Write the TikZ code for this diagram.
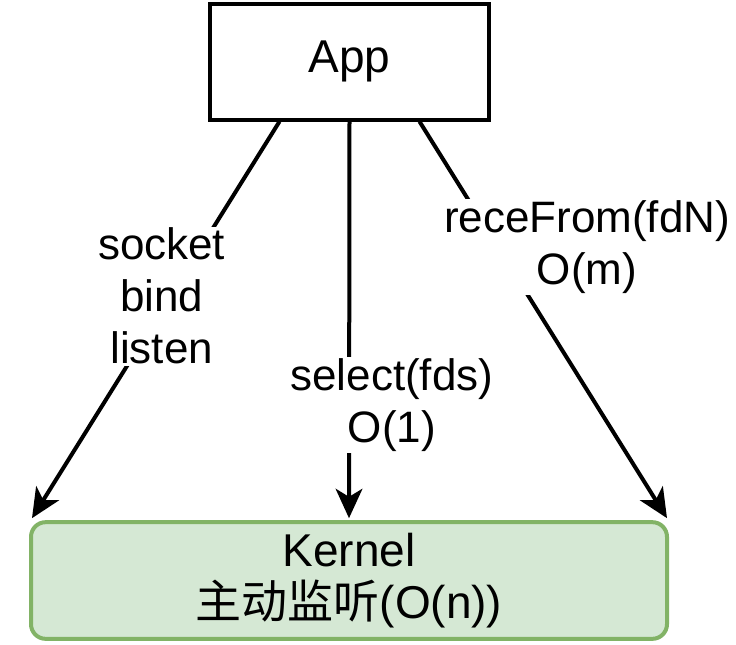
\documentclass[tikz,border=0pt]{standalone}
\usepackage{fontspec}
\setmainfont{Liberation Sans}
\newfontfamily\cjk{Noto Sans CJK SC}
\usetikzlibrary{calc,arrows.meta}
\definecolor{kernelfill}{HTML}{D5E8D4}
\definecolor{kerneldraw}{HTML}{82B366}

\begin{document}
\begin{tikzpicture}[x=0.75pt,y=-0.75pt,
  box/.style={draw, line width=3pt, align=center,
    font=\fontsize{34.5}{39.5}\selectfont},
  lbl/.style={fill=white, inner sep=1pt, align=center,
    font=\fontsize{33}{39}\selectfont},
  flow/.style={line width=3pt,
    -{Stealth[length=22pt,width=20pt,inset=6pt]}}]

% ------------------------
% Frame
% ------------------------
\useasboundingbox (0,0) rectangle (736,644);

% ------------------------
% Boxes
% ------------------------
\node[box, minimum width=209pt, minimum height=87pt] (app) at (349.5,61.5) {App};
\node[box, draw=kerneldraw, fill=kernelfill, rounded corners=11pt,
  minimum width=477pt, minimum height=87.5pt] (kernel) at (349,580.5)
  {Kernel\\{\cjk 主动监听}(O(n))};

% ------------------------
% Connector ends
% ------------------------
\coordinate (appL) at ($(app.south)+(-70,0)$);
\coordinate (appM) at (app.south);
\coordinate (appR) at ($(app.south)+(70,0)$);
\coordinate (kerL) at ($(kernel.north west)+(3,-2)$);
\coordinate (kerM) at ($(kernel.north)+(0,-2)$);
\coordinate (kerR) at ($(kernel.north east)+(-2,-2)$);

% ------------------------
% Calls
% ------------------------
\draw[flow] (appL) -- node[lbl, pos=0.44, xshift=-6.75pt] {socket\\bind\\listen} (kerL);
\draw[flow] (appM) -- node[lbl, pos=0.714, xshift=32pt] {select(fds)\\O(1)} (kerM);
\draw[flow] (appR) -- node[lbl, pos=0.316, xshift=67pt] {receFrom(fdN)\\O(m)} (kerR);

\end{tikzpicture}
\end{document}
